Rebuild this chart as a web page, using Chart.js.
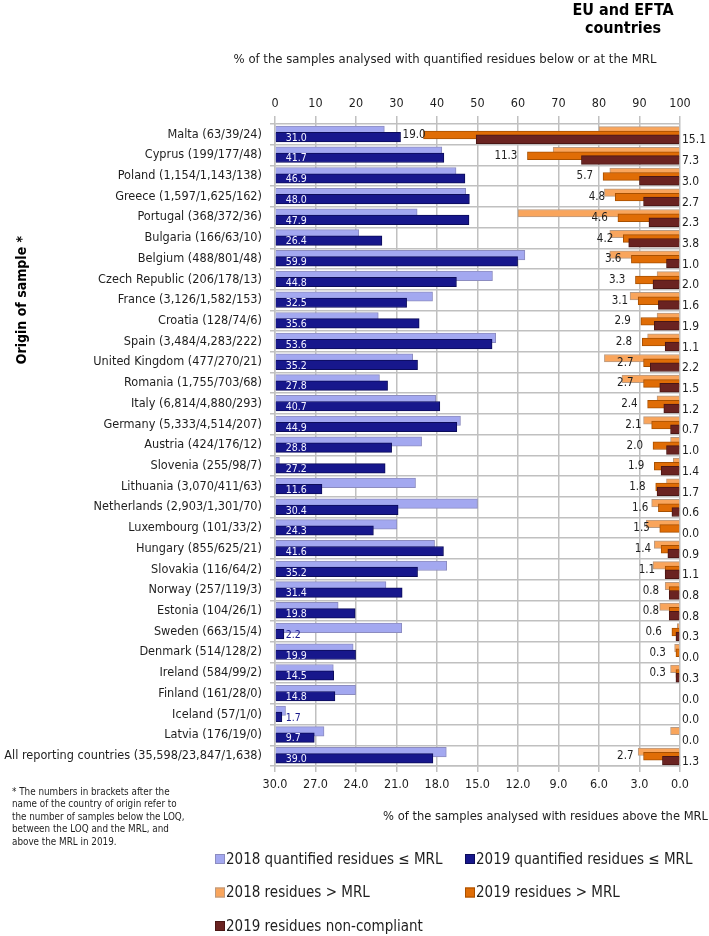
<!DOCTYPE html>
<html>
<head>
<meta charset="utf-8">
<script src="https://cdn.jsdelivr.net/npm/chart.js@4.4.0/dist/chart.umd.min.js"></script>
<style>
html, body { margin: 0; padding: 0; background: #fff; }
#wrap { position: relative; width: 709px; height: 936px; }
</style>
</head>
<body>
<div id="wrap"><canvas id="chart" width="709" height="936"></canvas></div>
<script>
const countries = [
    'Malta (63/39/24)', 'Cyprus (199/177/48)', 'Poland (1,154/1,143/138)', 'Greece (1,597/1,625/162)',
    'Portugal (368/372/36)', 'Bulgaria (166/63/10)', 'Belgium (488/801/48)', 'Czech Republic (206/178/13)',
    'France (3,126/1,582/153)', 'Croatia (128/74/6)', 'Spain (3,484/4,283/222)', 'United Kingdom (477/270/21)',
    'Romania (1,755/703/68)', 'Italy (6,814/4,880/293)', 'Germany (5,333/4,514/207)', 'Austria (424/176/12)',
    'Slovenia (255/98/7)', 'Lithuania (3,070/411/63)', 'Netherlands (2,903/1,301/70)', 'Luxembourg (101/33/2)',
    'Hungary (855/625/21)', 'Slovakia (116/64/2)', 'Norway (257/119/3)', 'Estonia (104/26/1)',
    'Sweden (663/15/4)', 'Denmark (514/128/2)', 'Ireland (584/99/2)', 'Finland (161/28/0)',
    'Iceland (57/1/0)', 'Latvia (176/19/0)', 'All reporting countries (35,598/23,847/1,638)'
];

// % of samples with quantified residues <= MRL (top axis)
const quant2018 = [27.0, 41.2, 44.7, 47.1, 35.1, 20.7, 61.7, 53.7, 38.9, 25.5, 54.5, 34.0, 25.8, 39.7, 45.8, 36.2,
    1.1, 34.7, 50.0, 30.1, 39.4, 42.4, 27.4, 15.6, 31.3, 19.3, 14.4, 19.9, 2.6, 12.1, 42.3];
const quant2019 = [31.0, 41.7, 46.9, 48.0, 47.9, 26.4, 59.9, 44.8, 32.5, 35.6, 53.6, 35.2, 27.8, 40.7, 44.9, 28.8,
    27.2, 11.6, 30.4, 24.3, 41.6, 35.2, 31.4, 19.8, 2.2, 19.9, 14.5, 14.8, 1.7, 9.7, 39.0];

// % of samples with residues > MRL (bottom axis, reversed)
const above2018 = [6.0, 9.4, 5.2, 5.6, 12.0, 5.2, 5.2, 1.7, 3.7, 1.7, 2.4, 5.6, 4.3, 1.7, 2.7, 0.7,
    0.5, 1.0, 2.1, 2.5, 1.9, 2.0, 1.1, 1.5, 0.2, 0.4, 0.7, 0.0, 0.0, 0.7, 3.1];
const above2019 = [19.0, 11.3, 5.7, 4.8, 4.6, 4.2, 3.6, 3.3, 3.1, 2.9, 2.8, 2.7, 2.7, 2.4, 2.1, 2.0,
    1.9, 1.8, 1.6, 1.5, 1.4, 1.1, 0.8, 0.8, 0.6, 0.3, 0.3, 0.0, 0.0, 0.0, 2.7];
const nonCompliant2019 = [15.1, 7.3, 3.0, 2.7, 2.3, 3.8, 1.0, 2.0, 1.6, 1.9, 1.1, 2.2, 1.5, 1.2, 0.7, 1.0,
    1.4, 1.7, 0.6, 0.0, 0.9, 1.1, 0.8, 0.8, 0.3, 0.0, 0.3, 0.0, 0.0, 0.0, 1.3];

const topTicks = [0, 10, 20, 30, 40, 50, 60, 70, 80, 90, 100];
const bottomTicks = [0, 3, 6, 9, 12, 15, 18, 21, 24, 27, 30];

const FONT = '"DejaVu Sans Condensed", "Liberation Sans", sans-serif';
const GRID = '#c0c0c0';
const TEXT = '#1e1e1e';

// shift = where the bar sits inside its row (fraction of a row)
function rowData(values, shift) {
    return values.map((v, i) => ({ x: v, y: i + shift }));
}

function barSet(label, values, shift, thickness, fill, border, axis, order) {
    return {
        label: label,
        data: rowData(values, shift),
        xAxisID: axis,
        yAxisID: 'yl',
        backgroundColor: fill,
        borderColor: border,
        borderWidth: 1,
        barThickness: thickness,
        grouped: false,
        order: order
    };
}

const labelPlugin = {
    id: 'barLabels',
    afterDatasetsDraw(chart) {
        const ctx = chart.ctx;
        const blue = chart.getDatasetMeta(1);
        const orange = chart.getDatasetMeta(3);
        const red = chart.getDatasetMeta(4);
        ctx.save();
        ctx.textBaseline = 'middle';

        ctx.font = '10.5px ' + FONT;
        ctx.textAlign = 'left';
        blue.data.forEach((bar, i) => {
            const txt = quant2019[i].toFixed(1);
            const w = ctx.measureText(txt).width;
            ctx.fillStyle = (bar.x - bar.base) > w + 14 ? '#f4f4ff' : '#1a1a8c';
            ctx.fillText(txt, bar.base + 10, bar.y + 1);
        });

        ctx.font = '11.5px ' + FONT;
        ctx.fillStyle = TEXT;
        ctx.textAlign = 'right';
        orange.data.forEach((bar, i) => {
            if (above2019[i] === 0) return;
            const txt = above2019[i].toFixed(1);
            const w = ctx.measureText(txt).width;
            let right = bar.x - 10;
            const blueEnd = blue.data[i].x;
            if (right - w < blueEnd + 2) right = blueEnd + 2 + w;
            ctx.fillText(txt, right, bar.y);
        });

        ctx.font = '12px ' + FONT;
        ctx.textAlign = 'left';
        red.data.forEach((bar, i) => {
            ctx.fillText(nonCompliant2019[i].toFixed(1), chart.chartArea.right + 2, bar.y + 1);
        });
        ctx.restore();
    }
};

const decorPlugin = {
    id: 'decor',
    afterDraw(chart) {
        const ctx = chart.ctx;
        ctx.save();
        ctx.fillStyle = '#000';
        ctx.textBaseline = 'middle';
        ctx.textAlign = 'center';
        ctx.font = 'bold 16px ' + FONT;
        ctx.fillText('EU and EFTA', 623, 11);
        ctx.fillText('countries', 623, 29);

        ctx.fillStyle = TEXT;
        ctx.font = '13px ' + FONT;
        ctx.fillText('% of the samples analysed with quantified residues below or at the MRL', 445, 60);
        ctx.textAlign = 'right';
        ctx.font = '12.8px ' + FONT;
        ctx.fillText('% of the samples analysed with residues above the MRL', 708, 817);

        ctx.save();
        ctx.translate(22, 300);
        ctx.rotate(-Math.PI / 2);
        ctx.textAlign = 'center';
        ctx.fillStyle = '#000';
        ctx.font = 'bold 14px ' + FONT;
        ctx.fillText('Origin of sample *', 0, 0);
        ctx.restore();

        const note = [
            '* The numbers in brackets after the',
            'name of the country of origin refer to',
            'the number of samples below the LOQ,',
            'between the LOQ and the MRL, and',
            'above the MRL in 2019.'
        ];
        ctx.textAlign = 'left';
        ctx.font = '9.8px ' + FONT;
        note.forEach((line, k) => ctx.fillText(line, 12, 792 + k * 12.6));

        // legend, two columns
        ctx.font = '15px ' + FONT;
        chart.data.datasets.forEach((ds, k) => {
            const x = k % 2 === 0 ? 215 : 465;
            const y = 859 + Math.floor(k / 2) * 33.5;
            ctx.fillStyle = ds.backgroundColor;
            ctx.strokeStyle = ds.borderColor;
            ctx.lineWidth = 1;
            ctx.fillRect(x, y - 5, 10, 10);
            ctx.strokeRect(x + 0.5, y - 4.5, 9, 9);
            ctx.fillStyle = TEXT;
            ctx.fillText(ds.label, x + 11, y + 1);
        });
        ctx.restore();
    }
};

const chart = new Chart(document.getElementById('chart'), {
    type: 'bar',
    data: {
        labels: countries,
        datasets: [
            barSet('2018 quantified residues \u2264 MRL', quant2018, -0.17, 9.5, '#a3a8f0', '#8c8cc0', 'x', 3),
            barSet('2019 quantified residues \u2264 MRL', quant2019, 0.13, 9.5, '#17178c', '#0c0c5a', 'x', 2),
            barSet('2018 residues > MRL', above2018, -0.19, 7.5, '#f9a55c', '#b89a82', 'x2', 3),
            barSet('2019 residues > MRL', above2019, 0.03, 7.8, '#e06d06', '#a85000', 'x2', 2),
            barSet('2019 residues non-compliant', nonCompliant2019, 0.24, 8.8, '#6a2321', '#4a1614', 'x2', 1)
        ]
    },
    options: {
        indexAxis: 'y',
        responsive: false,
        animation: false,
        layout: { padding: { left: 0, right: 29, top: 0, bottom: 0 } },
        plugins: {
            legend: { display: false },
            tooltip: { enabled: false }
        },
        scales: {
            x: {
                type: 'linear',
                position: 'top',
                min: 0,
                max: 100,
                afterFit: (s) => { s.height = 124; },
                afterBuildTicks: (s) => { s.ticks = topTicks.map(v => ({ value: v })); },
                grid: { color: GRID, lineWidth: 1.5, tickLength: 8 },
                border: { display: false },
                ticks: { color: TEXT, padding: 5, font: { family: FONT, size: 12.5 }, callback: (v) => String(v) }
            },
            x2: {
                type: 'linear',
                axis: 'x',
                position: 'bottom',
                reverse: true,
                min: 0,
                max: 30,
                afterFit: (s) => { s.height = 170; },
                afterBuildTicks: (s) => { s.ticks = bottomTicks.map(v => ({ value: v })); },
                grid: { drawOnChartArea: false, color: GRID, lineWidth: 1.5, tickLength: 6 },
                border: { color: GRID, width: 1.5 },
                ticks: { color: TEXT, padding: 5, font: { family: FONT, size: 12.5 }, callback: (v) => v.toFixed(1) }
            },
            y: {
                type: 'category',
                position: 'left',
                offset: true,
                afterFit: (s) => { s.width = 275; },
                grid: { offset: true, color: GRID, lineWidth: 1.5, tickLength: 5 },
                border: { color: GRID, width: 1.5 },
                ticks: { color: TEXT, padding: 8, autoSkip: false, font: { family: FONT, size: 12.6 } }
            },
            yl: {
                type: 'linear',
                axis: 'y',
                display: false,
                offset: false,
                grid: { offset: false },
                reverse: true,
                min: -0.5,
                max: 30.5
            }
        }
    },
    plugins: [labelPlugin, decorPlugin]
});
</script>
</body>
</html>
